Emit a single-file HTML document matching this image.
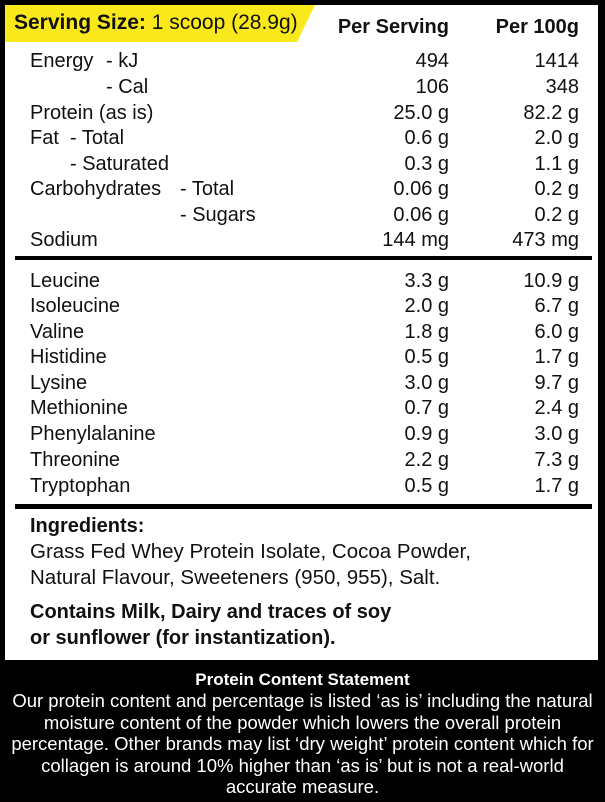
<!DOCTYPE html>
<html><head><meta charset="utf-8"><style>
body{margin:0;width:605px;height:802px;background:#000;position:relative;overflow:hidden;font-family:"Liberation Sans",sans-serif;}
#panel{position:absolute;left:5px;top:5px;width:593px;height:655px;background:#fff;}
.t{position:absolute;font-size:20px;line-height:24px;color:#111;white-space:nowrap;}
.r1{right:156px;text-align:right}
.r2{right:26px;text-align:right}
.hr{position:absolute;left:15px;width:577px;height:4px;background:#000;}
.bot{position:absolute;left:0;width:605px;text-align:center;color:#fff;font-size:18.5px;line-height:21.6px;}
</style></head><body>
<div id="panel"></div>
<svg style="position:absolute;left:5px;top:5px" width="310" height="37"><polygon points="0,0 310,0 292,37 0,37" fill="#f9e81b"/></svg>
<div class="t" style="left:14px;top:11px;font-size:21px"><b>Serving Size:</b> 1 scoop (28.9g)</div>
<div class="t r1" style="top:15px;font-weight:bold">Per Serving</div>
<div class="t r2" style="top:15px;font-weight:bold">Per 100g</div>

<div class="t" style="left:30px;top:49px">Energy</div><div class="t" style="left:106px;top:49px">- kJ</div><div class="t r1" style="top:49px">494</div><div class="t r2" style="top:49px">1414</div>
<div class="t" style="left:106px;top:75px">- Cal</div><div class="t r1" style="top:75px">106</div><div class="t r2" style="top:75px">348</div>
<div class="t" style="left:30px;top:101px">Protein (as is)</div><div class="t r1" style="top:101px">25.0 g</div><div class="t r2" style="top:101px">82.2 g</div>
<div class="t" style="left:30px;top:126px">Fat&nbsp; - Total</div><div class="t r1" style="top:126px">0.6 g</div><div class="t r2" style="top:126px">2.0 g</div>
<div class="t" style="left:70px;top:152px">- Saturated</div><div class="t r1" style="top:152px">0.3 g</div><div class="t r2" style="top:152px">1.1 g</div>
<div class="t" style="left:30px;top:177px">Carbohydrates</div><div class="t" style="left:180px;top:177px">- Total</div><div class="t r1" style="top:177px">0.06 g</div><div class="t r2" style="top:177px">0.2 g</div>
<div class="t" style="left:180px;top:203px">- Sugars</div><div class="t r1" style="top:203px">0.06 g</div><div class="t r2" style="top:203px">0.2 g</div>
<div class="t" style="left:30px;top:228px">Sodium</div><div class="t r1" style="top:228px">144 mg</div><div class="t r2" style="top:228px">473 mg</div>
<div class="hr" style="top:256px"></div>
<div class="t" style="left:30px;top:269px">Leucine</div><div class="t r1" style="top:269px">3.3 g</div><div class="t r2" style="top:269px">10.9 g</div>
<div class="t" style="left:30px;top:294px">Isoleucine</div><div class="t r1" style="top:294px">2.0 g</div><div class="t r2" style="top:294px">6.7 g</div>
<div class="t" style="left:30px;top:320px">Valine</div><div class="t r1" style="top:320px">1.8 g</div><div class="t r2" style="top:320px">6.0 g</div>
<div class="t" style="left:30px;top:345px">Histidine</div><div class="t r1" style="top:345px">0.5 g</div><div class="t r2" style="top:345px">1.7 g</div>
<div class="t" style="left:30px;top:371px">Lysine</div><div class="t r1" style="top:371px">3.0 g</div><div class="t r2" style="top:371px">9.7 g</div>
<div class="t" style="left:30px;top:396px">Methionine</div><div class="t r1" style="top:396px">0.7 g</div><div class="t r2" style="top:396px">2.4 g</div>
<div class="t" style="left:30px;top:422px">Phenylalanine</div><div class="t r1" style="top:422px">0.9 g</div><div class="t r2" style="top:422px">3.0 g</div>
<div class="t" style="left:30px;top:448px">Threonine</div><div class="t r1" style="top:448px">2.2 g</div><div class="t r2" style="top:448px">7.3 g</div>
<div class="t" style="left:30px;top:474px">Tryptophan</div><div class="t r1" style="top:474px">0.5 g</div><div class="t r2" style="top:474px">1.7 g</div>
<div class="hr" style="top:504px;height:5px"></div>
<div class="t" style="left:30px;top:514px;font-weight:bold">Ingredients:</div>
<div class="t" style="left:30px;top:540px;font-size:20.5px">Grass Fed Whey Protein Isolate, Cocoa Powder,</div>
<div class="t" style="left:30px;top:566px;font-size:20.5px">Natural Flavour, Sweeteners (950, 955), Salt.</div>
<div class="t" style="left:30px;top:600px;font-weight:bold">Contains Milk, Dairy and traces of soy</div>
<div class="t" style="left:30px;top:626px;font-weight:bold">or sunflower (for instantization).</div>

<div class="bot" style="top:669px;font-weight:bold;font-size:17px">Protein Content Statement</div>
<div class="bot" style="top:690px">Our protein content and percentage is listed ‘as is’ including the natural<br>moisture content of the powder which lowers the overall protein<br>percentage. Other brands may list ‘dry weight’ protein content which for<br>collagen is around 10% higher than ‘as is’ but is not a real-world<br>accurate measure.</div>
</body></html>
